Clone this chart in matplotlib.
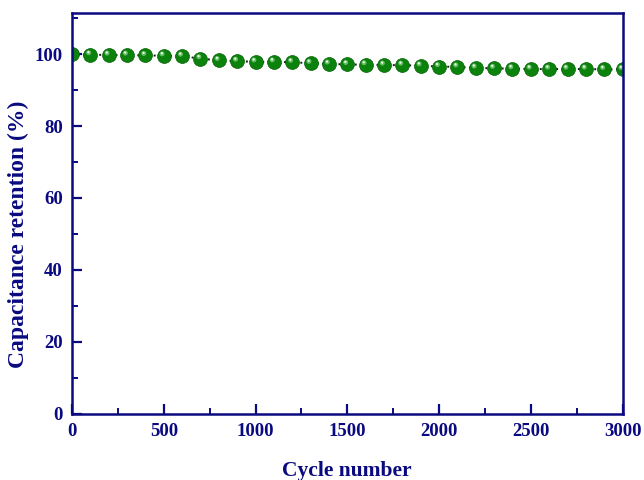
import matplotlib
matplotlib.use("Agg")
import matplotlib.pyplot as plt
import matplotlib.transforms as mtransforms
from matplotlib.ticker import MultipleLocator

cycles = list(range(0, 3001, 100))
retention = [100.0, 99.9, 99.8, 99.8, 99.7, 99.6, 99.5, 98.8, 98.3, 98.1,
             97.9, 97.9, 97.8, 97.5, 97.3, 97.2, 97.1, 97.0, 97.0, 96.8,
             96.6, 96.5, 96.2, 96.1, 96.0, 95.9, 95.9, 95.9, 95.9, 95.8, 95.8]

navy = "#0a0a80"
plt.rcParams['font.family'] = ['Liberation Serif', 'DejaVu Serif']
plt.rcParams['font.weight'] = 'bold'

fig = plt.figure(figsize=(6.44, 4.8), dpi=100)
ax = fig.add_axes([0.1118, 0.1385, 0.855, 0.8344])

ax.plot(cycles, retention, linestyle=(0, (1, 1.8)), color='#102010', linewidth=1.4,
        zorder=2)
ax.scatter(cycles, retention, s=100, marker='o',
           facecolor='#0b820b', edgecolor='#096009', linewidths=0.5, zorder=3)
off = mtransforms.ScaledTranslation(-1.2/72, 1.4/72, fig.dpi_scale_trans)
ax.scatter(cycles, retention, s=13, marker='o', facecolor='#6cc46c',
           edgecolor='none', alpha=0.9, transform=ax.transData + off, zorder=4)
off2 = mtransforms.ScaledTranslation(-1.4/72, 1.8/72, fig.dpi_scale_trans)
ax.scatter(cycles, retention, s=2.6, marker='o', facecolor='#f0fff0',
           edgecolor='none', transform=ax.transData + off2, zorder=5)

ax.set_xlim(0, 3000)
ax.set_ylim(0, 111.5)
ax.xaxis.set_major_locator(MultipleLocator(500))
ax.xaxis.set_minor_locator(MultipleLocator(250))
ax.yaxis.set_major_locator(MultipleLocator(20))
ax.yaxis.set_minor_locator(MultipleLocator(10))

for s in ax.spines.values():
    s.set_color(navy)
    s.set_linewidth(1.8)
    s.set_zorder(6)

ax.tick_params(axis='both', which='major', direction='in', length=7, width=1.6,
               color=navy, labelcolor=navy, labelsize=13.5,
               top=False, right=False)
ax.tick_params(axis='x', which='major', pad=7)
ax.tick_params(axis='y', which='major', pad=6.5)
ax.tick_params(axis='both', which='minor', direction='in', length=4, width=1.4,
               color=navy, top=False, right=False)
for lab in ax.get_xticklabels() + ax.get_yticklabels():
    lab.set_fontweight('bold')

ax.set_xlabel('Cycle number', fontsize=15.5, fontweight='bold', color=navy)
ax.set_ylabel('Capacitance retention (%)', fontsize=17, fontweight='bold', color=navy)
ax.xaxis.set_label_coords(0.5, -0.118)
ax.yaxis.set_label_coords(-0.078, 0.448)

fig.savefig('out.png', dpi=100)
